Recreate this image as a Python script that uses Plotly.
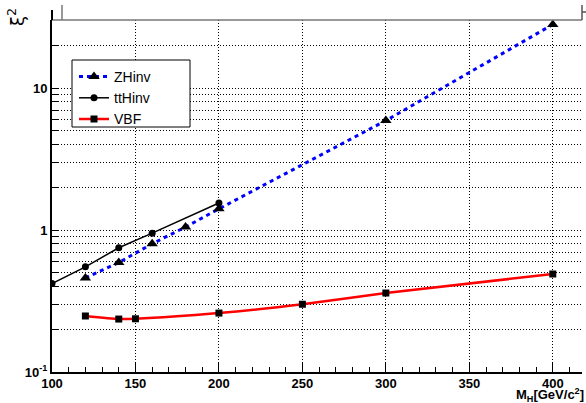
import plotly.graph_objects as go

# Data
zh_x = [120, 140, 160, 180, 200, 300, 400]
zh_y = [0.46, 0.59, 0.80, 1.05, 1.41, 5.9, 28.0]

tth_x = [100, 120, 140, 160, 200]
tth_y = [0.42, 0.55, 0.75, 0.95, 1.55]

vbf_x = [120, 140, 150, 200, 250, 300, 400]
vbf_y = [0.248, 0.236, 0.237, 0.26, 0.30, 0.36, 0.49]

x_ticks = [100, 150, 200, 250, 300, 350, 400]
y_major = [0.1, 1, 10]
y_major_text = ["10<sup>-1</sup>", "1", "10"]

W, H = 586, 403
L, R, T, B = 52, 4, 20, 31
pw, ph = W - L - R, H - T - B

FONT = "Liberation Sans, Arial, sans-serif"

fig = go.Figure()
fig.add_trace(go.Scatter(x=zh_x, y=zh_y, name="ZHinv", mode="lines+markers",
                         line=dict(color="#0000ff", width=3, dash="4px,4px"),
                         marker=dict(symbol="triangle-up", size=10, color="black")))
fig.add_trace(go.Scatter(x=tth_x, y=tth_y, name="ttHinv", mode="lines+markers",
                         line=dict(color="black", width=1.5),
                         marker=dict(symbol="circle", size=7, color="black")))
fig.add_trace(go.Scatter(x=vbf_x, y=vbf_y, name="VBF", mode="lines+markers",
                         line=dict(color="#ff0000", width=2.5, shape="spline", smoothing=0.6),
                         marker=dict(symbol="square", size=7, color="black")))

# y tick values: all 1..9 multiples per decade, labels only at majors
yvals, ytext = [], []
for dec in y_major:
    for m in range(1, 10):
        v = round(dec * m, 6)
        if v > 30:
            break
        yvals.append(v)
        ytext.append(y_major_text[y_major.index(dec)] if m == 1 else "")

fig.update_layout(
    width=W, height=H,
    margin=dict(l=L, r=R, t=T, b=B, pad=0, autoexpand=False),
    paper_bgcolor="white", plot_bgcolor="white",
    font=dict(family=FONT, color="black", size=13),
    showlegend=True,
    legend=dict(x=(74 - L) / pw, y=(H - B - 61) / ph, xanchor="left", yanchor="top",
                bgcolor="rgba(0,0,0,0)", borderwidth=0,
                font=dict(size=14, family=FONT),
                itemwidth=30, tracegroupgap=0),
    xaxis=dict(range=[100, 417.5], tickvals=x_ticks, automargin=False,
               ticks="inside", ticklen=10, tickwidth=1, tickcolor="black",
               ticklabelstandoff=-2,
               tickfont=dict(size=13, family=FONT, weight="bold"),
               showline=True, linecolor="black", linewidth=2,
               showgrid=True, gridcolor="black", griddash="1px,2px", gridwidth=1,
               minor=dict(dtick=10, ticks="inside", ticklen=5, tickcolor="black", showgrid=False),
               zeroline=False),
    yaxis=dict(type="log", range=[-1, 1.479], tickvals=yvals, ticktext=ytext, automargin=False,
               ticks="inside", ticklen=6, tickwidth=1, tickcolor="black",
               tickfont=dict(size=13, family=FONT, weight="bold"),
               showline=True, linecolor="black", linewidth=2,
               showgrid=True, gridcolor="black", griddash="1px,2px", gridwidth=1,
               zeroline=False),
    annotations=[
        dict(text="M<sub>H</sub>[GeV/c<sup>2</sup>]", xref="paper", yref="paper",
             x=(585 - L) / pw, y=-(405 - (H - B)) / ph, xanchor="right", yanchor="bottom",
             borderpad=0,
             showarrow=False, font=dict(size=13, weight="bold")),
        dict(text="ξ<sup>2</sup>", xref="paper", yref="paper",
             x=-(L - 16) / pw, y=1 + (T - 17) / ph, xanchor="center", yanchor="middle",
             textangle=-90, showarrow=False, font=dict(size=18, family="DejaVu Sans")),
    ],
    shapes=[
        # legend box
        dict(type="rect", xref="paper", yref="paper",
             x0=(72 - L) / pw, x1=(190 - L) / pw,
             y0=(H - B - 127) / ph, y1=(H - B - 60) / ph,
             fillcolor="white", line=dict(color="black", width=1), layer="above"),
        # top frame pieces
        dict(type="line", xref="paper", yref="paper", x0=0, x1=1, y0=1, y1=1,
             line=dict(color="#777777", width=1.5)),
        dict(type="line", xref="paper", yref="paper", x0=0, x1=0, y0=1, y1=1 + 10 / ph,
             line=dict(color="black", width=2)),
        dict(type="line", xref="paper", yref="paper", x0=10 / pw, x1=10 / pw, y0=1, y1=1 + 15 / ph,
             line=dict(color="#777777", width=1.5)),
        dict(type="line", xref="paper", yref="paper", x0=1, x1=1, y0=1, y1=1 + 15 / ph,
             line=dict(color="#555555", width=1.5)),
        dict(type="line", xref="paper", yref="paper", x0=1, x1=(W - L) / pw, y0=1 + 8 / ph, y1=1 + 8 / ph,
             line=dict(color="#555555", width=1.5)),
    ],
)

fig.write_html("out.html", config={"displayModeBar": False},
               post_script="document.body.style.margin='0';document.body.style.overflow='hidden';")
